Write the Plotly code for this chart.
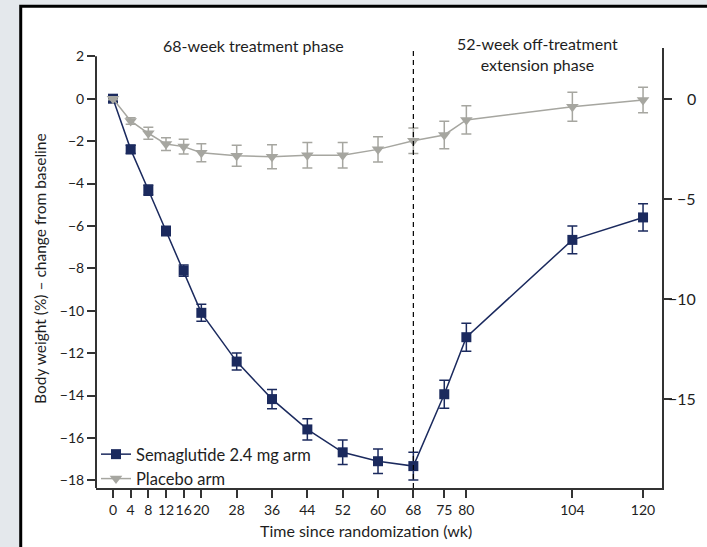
import plotly.graph_objects as go

weeks_sema = [0, 4, 8, 12, 16, 20, 28, 36, 44, 52, 60, 68, 75, 80, 104, 120]
sema_values = [0, -2.39, -4.31, -6.24, -8.11, -10.1, -12.4, -14.17, -15.6, -16.68, -17.1, -17.33, -13.94, -11.25, -6.66, -5.6]
sema_err = [0.05, 0.2, 0.24, 0.22, 0.27, 0.4, 0.4, 0.45, 0.5, 0.58, 0.58, 0.65, 0.66, 0.66, 0.65, 0.64]

weeks_plac = [0, 4, 8, 12, 16, 20, 28, 36, 44, 52, 60, 68, 75, 80, 104, 120]
plac_values = [0, -1.05, -1.63, -2.14, -2.26, -2.55, -2.69, -2.74, -2.67, -2.67, -2.39, -1.98, -1.71, -1.0, -0.38, -0.06]
plac_err = [0.05, 0.15, 0.28, 0.3, 0.35, 0.42, 0.5, 0.57, 0.6, 0.6, 0.6, 0.6, 0.65, 0.67, 0.68, 0.6]

x_ticks = [0, 4, 8, 12, 16, 20, 28, 36, 44, 52, 60, 68, 75, 80, 104, 120]
left_ticks = [2, 0, -2, -4, -6, -8, -10, -12, -14, -16, -18]
right_ticks = [0, -5, -10, -15]

NAVY = "#1b2a5e"
GRAY = "#a6a6a0"
AXIS = "#333333"
TXT = "#1e1e1e"
FONT = "Lato, 'Open Sans', sans-serif"

fig = go.Figure()
fig.add_trace(go.Scatter(
    x=weeks_sema, y=sema_values, mode="lines+markers", name="Semaglutide 2.4 mg arm",
    line=dict(color=NAVY, width=1.5),
    marker=dict(symbol="square", size=10, color=NAVY),
    error_y=dict(type="data", array=sema_err, color=NAVY, thickness=1.5, width=5),
))
fig.add_trace(go.Scatter(
    x=weeks_plac, y=plac_values, mode="lines+markers", name="Placebo arm",
    line=dict(color=GRAY, width=1.5),
    marker=dict(symbol="triangle-down", size=11, color=GRAY),
    error_y=dict(type="data", array=plac_err, color=GRAY, thickness=1.5, width=5),
))
# invisible trace to activate right axis
fig.add_trace(go.Scatter(x=[0], y=[0], yaxis="y2", mode="markers",
                         marker=dict(opacity=0), showlegend=False, hoverinfo="skip"))

# x: pixel 113 -> 0, 4.417 px/wk; plot area 96..662
x_lo = (96 - 113) / 4.417
x_hi = (662 - 113) / 4.417
# left y: 0 at 98.7, 21.2 px/unit; plot area 48..488
yl_lo = -(488 - 98.7) / 21.2
yl_hi = (98.7 - 48) / 21.2
# right y: 0 at 98.5, 20 px/unit
yr_lo = -(488 - 98.5) / 20
yr_hi = (98.5 - 48) / 20

fig.update_layout(
    width=707, height=547, autosize=False,
    margin=dict(l=96, r=45, t=48, b=59),
    paper_bgcolor="#e4e8ec", plot_bgcolor="rgba(0,0,0,0)",
    font=dict(family=FONT, size=14, color=TXT),
    showlegend=True,
    legend=dict(x=0.0, y=-0.018, xanchor="left", yanchor="bottom",
                bgcolor="rgba(0,0,0,0)", font=dict(size=16.5, color=TXT),
                tracegroupgap=0),
    xaxis=dict(range=[x_lo, x_hi], tickvals=x_ticks, ticks="outside", ticklen=8,
               tickwidth=1.5, tickcolor=AXIS, showline=True, linecolor=AXIS, linewidth=2,
               showgrid=False, zeroline=False, tickfont=dict(size=14), tickangle=0),
    yaxis=dict(range=[yl_lo, yl_hi], tickvals=left_ticks, ticks="outside", ticklen=8,
               tickwidth=1.5, tickcolor=AXIS, showline=False, showgrid=False,
               zeroline=False, tickfont=dict(size=14)),
    yaxis2=dict(range=[yr_lo, yr_hi], overlaying="y", side="right", anchor="x",
                tickvals=right_ticks, ticks="outside", ticklen=8, tickwidth=1.5,
                tickcolor=AXIS, showline=True, linecolor=AXIS, linewidth=2,
                showgrid=False, zeroline=False, showticklabels=False),
)

shapes = [
    # frame
    dict(type="rect", xref="paper", yref="paper", x0=-0.133, x1=1.2, y0=-0.2, y1=1.0948,
         fillcolor="white", line=dict(color="black", width=3), layer="below"),
    # left axis line from bottom to 2
    dict(type="line", xref="paper", yref="y", x0=0, x1=0, y0=yl_lo, y1=2,
         line=dict(color=AXIS, width=2)),
    # dashed divider at week 68
    dict(type="line", xref="x", yref="paper", x0=68, x1=68, y0=0, y1=1,
         line=dict(color="black", width=1.2, dash="5px,4px")),
]
fig.update_layout(shapes=shapes)

annotations = [
    dict(text="68-week treatment phase", xref="x", yref="paper", x=31.9, y=1.0068,
         showarrow=False, font=dict(size=16, color=TXT), xanchor="center", yanchor="middle"),
    dict(text="52-week off-treatment<br>extension phase", xref="x", yref="paper", x=96.2, y=0.986,
         showarrow=False, font=dict(size=16, color=TXT), xanchor="center", yanchor="middle"),
    dict(text="Body weight (%) – change from baseline", xref="paper", yref="paper",
         x=-0.099, y=0.5, textangle=-90, showarrow=False, font=dict(size=15.5, color=TXT),
         xanchor="center", yanchor="middle"),
    dict(text="Time since randomization (wk)", xref="paper", yref="paper",
         x=0.477, y=-0.0955, showarrow=False, font=dict(size=16, color=TXT),
         xanchor="center", yanchor="middle"),
]
for v in right_ticks:
    annotations.append(dict(text=("−" + str(abs(v))) if v < 0 else str(v),
                            xref="paper", yref="y2", x=1.0636, y=v, showarrow=False,
                            xanchor="right", yanchor="middle",
                            font=dict(size=16, color=TXT)))
fig.update_layout(annotations=annotations)

fig.write_html("out.html")
